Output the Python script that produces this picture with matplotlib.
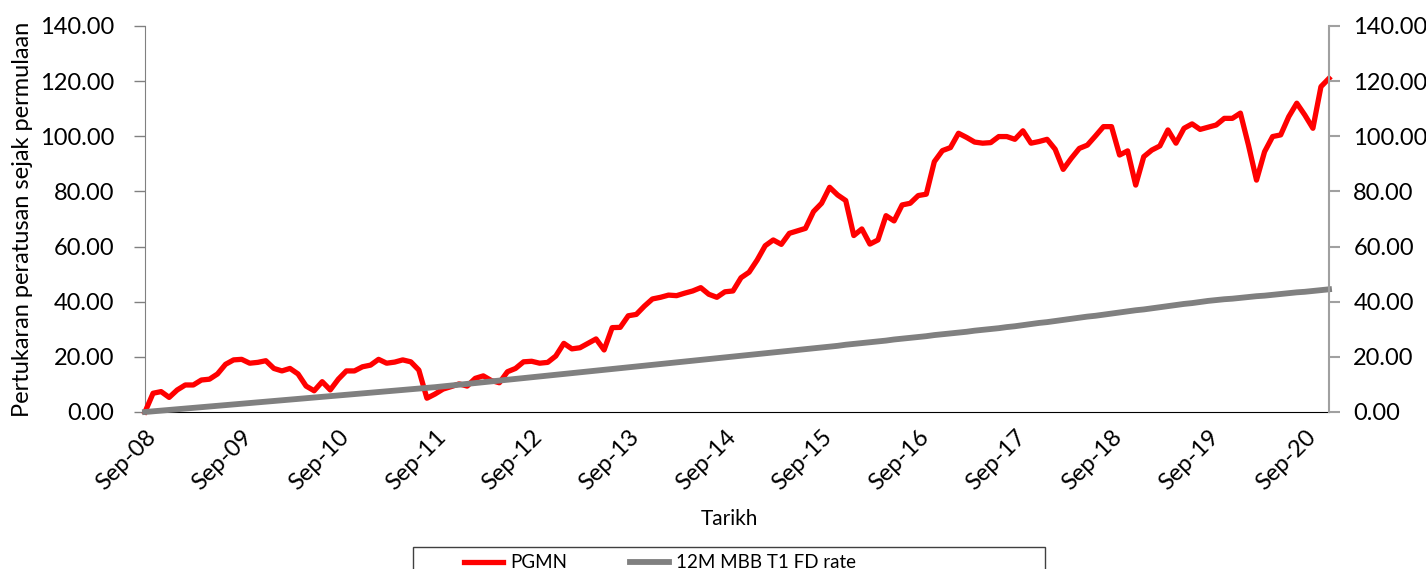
#!/usr/bin/env python3

# PGMN vs 12M MBB T1 FD rate, cumulative % change since launch (monthly, Sep-08 .. Dec-20)

import matplotlib
matplotlib.use("Agg")
import matplotlib.pyplot as plt
from matplotlib.patches import Rectangle

plt.rcParams['font.family'] = ['Lato', 'DejaVu Sans']

# monthly values, first point = Sep-08
pgmn = [0.0, 6.8, 7.4, 5.3, 8.0, 9.8, 9.8, 11.6, 11.9, 13.8,
        17.3, 18.9, 19.1, 17.7, 18.0, 18.6, 15.8, 14.9, 15.8, 13.8,
        9.4, 7.7, 11.0, 8.0, 11.9, 14.9, 14.9, 16.4, 17.0, 19.1,
        17.7, 18.1, 18.9, 18.2, 15.2, 5.0, 6.5, 8.3, 9.2, 10.2,
        9.4, 12.2, 13.1, 11.4, 10.6, 14.6, 15.8, 18.2, 18.4, 17.7,
        18.0, 20.3, 24.9, 22.9, 23.3, 24.9, 26.5, 22.5, 30.6, 30.7,
        34.9, 35.4, 38.4, 41.0, 41.6, 42.4, 42.2, 43.1, 43.9, 45.1,
        42.7, 41.6, 43.6, 43.9, 48.7, 50.7, 55.1, 60.3, 62.4, 60.8,
        64.8, 65.7, 66.6, 72.7, 75.7, 81.5, 78.7, 76.7, 64.0, 66.4,
        60.9, 62.4, 71.2, 69.3, 75.1, 75.7, 78.5, 79.0, 90.8, 94.8,
        95.9, 101.1, 99.6, 97.9, 97.5, 97.7, 99.9, 99.9, 98.9, 102.0,
        97.5, 98.1, 98.9, 95.3, 88.0, 92.0, 95.6, 96.8, 100.1, 103.5,
        103.5, 93.2, 94.7, 82.3, 92.6, 95.0, 96.5, 102.3, 97.5, 102.9,
        104.5, 102.5, 103.3, 104.1, 106.5, 106.5, 108.4, 96.8, 84.1, 94.4,
        99.9, 100.5, 107.1, 112.0, 107.7, 102.9, 118.0, 121.0]

fd_rate = [0.0, 0.25, 0.5, 0.75, 1.0, 1.25, 1.5, 1.75, 2.0, 2.25,
           2.5, 2.75, 3.0, 3.25, 3.5, 3.75, 4.0, 4.25, 4.5, 4.75,
           5.0, 5.25, 5.5, 5.75, 6.0, 6.25, 6.5, 6.75, 7.0, 7.25,
           7.5, 7.75, 8.0, 8.25, 8.5, 8.75, 9.0, 9.3, 9.6, 9.9,
           10.2, 10.5, 10.8, 11.1, 11.4, 11.7, 12.0, 12.3, 12.6, 12.9,
           13.2, 13.5, 13.8, 14.1, 14.4, 14.7, 15.0, 15.3, 15.6, 15.9,
           16.2, 16.5, 16.8, 17.1, 17.4, 17.7, 18.0, 18.3, 18.6, 18.9,
           19.2, 19.5, 19.8, 20.1, 20.4, 20.7, 21.0, 21.3, 21.6, 21.9,
           22.2, 22.5, 22.8, 23.1, 23.4, 23.7, 24.0, 24.4, 24.7, 25.0,
           25.3, 25.6, 25.9, 26.3, 26.6, 26.9, 27.2, 27.5, 27.9, 28.2,
           28.5, 28.8, 29.1, 29.5, 29.8, 30.1, 30.4, 30.8, 31.1, 31.5,
           31.9, 32.3, 32.6, 33.0, 33.4, 33.8, 34.2, 34.6, 34.9, 35.3,
           35.7, 36.1, 36.5, 36.9, 37.2, 37.6, 38.0, 38.4, 38.8, 39.2,
           39.5, 39.9, 40.3, 40.6, 40.9, 41.1, 41.4, 41.7, 42.0, 42.2,
           42.5, 42.8, 43.1, 43.4, 43.6, 43.9, 44.2, 44.5]

tick_labels = ['Sep-08', 'Sep-09', 'Sep-10', 'Sep-11', 'Sep-12', 'Sep-13', 'Sep-14',
               'Sep-15', 'Sep-16', 'Sep-17', 'Sep-18', 'Sep-19', 'Sep-20']
y_ticks = [0, 20, 40, 60, 80, 100, 120, 140]


def main():
    fig = plt.figure(figsize=(14.26, 5.69), dpi=100)
    ax = fig.add_axes([145/1426, 157/569, (1329-145)/1426, 386/569])

    x = list(range(len(pgmn)))
    ax.plot(x, pgmn, color='#FF0000', lw=3.8, label='PGMN', clip_on=False, zorder=3)
    ax.plot(x, fd_rate, color='#808080', lw=4.2, label='12M MBB T1 FD rate', clip_on=False,
            zorder=4)

    ax.set_xlim(0, len(pgmn) - 1)
    ax.set_ylim(0, 140)
    ax.set_yticks(y_ticks)
    ax.set_yticklabels(["%.2f" % v for v in y_ticks])
    ax.set_xticks(list(range(0, len(pgmn), 12)))
    ax.set_xticklabels(tick_labels, rotation=45, ha='right', va='top', rotation_mode='anchor')

    ax.tick_params(axis='y', length=8, width=1, color='#808080', pad=14, labelsize=17)
    ax.tick_params(axis='x', length=0, pad=10, labelsize=17)
    ax.spines['top'].set_visible(False)
    ax.spines['right'].set_visible(False)
    ax.spines['left'].set_color('#808080')
    ax.spines['bottom'].set_color('#000000')

    ax2 = ax.twinx()
    ax2.set_ylim(0, 140)
    ax2.set_yticks(y_ticks)
    ax2.set_yticklabels(["%.2f" % v for v in y_ticks])
    ax2.tick_params(axis='y', length=8, width=1.5, color='#A0A0A0', pad=9.5, labelsize=17)
    for s in ['top', 'left', 'bottom']:
        ax2.spines[s].set_visible(False)
    ax2.spines['right'].set_color('#A0A0A0')
    ax2.spines['right'].set_linewidth(1.5)

    ax.set_ylabel("Pertukaran peratusan sejak permulaan", fontsize=17)
    ax.yaxis.set_label_coords(-0.0946, 0.5)
    fig.text(729/1426, 1 - 519/569, "Tarikh", ha='center', va='center', fontsize=15)

    # legend box runs past the bottom of the image, as in the source
    fig.patches.append(Rectangle((413/1426, -0.05), (1045-413)/1426, 0.05 + 22/569,
                                 transform=fig.transFigure, fill=False,
                                 edgecolor='#404040', lw=1))
    fig.legend(*ax.get_legend_handles_labels(), loc='center left',
               bbox_to_anchor=(447/1426, 1 - 563/569), ncol=2, frameon=False,
               fontsize=13.5, handlelength=2.1, columnspacing=3.3, handletextpad=0.4)

    fig.savefig('out.png', dpi=100)


if __name__ == '__main__':
    main()
